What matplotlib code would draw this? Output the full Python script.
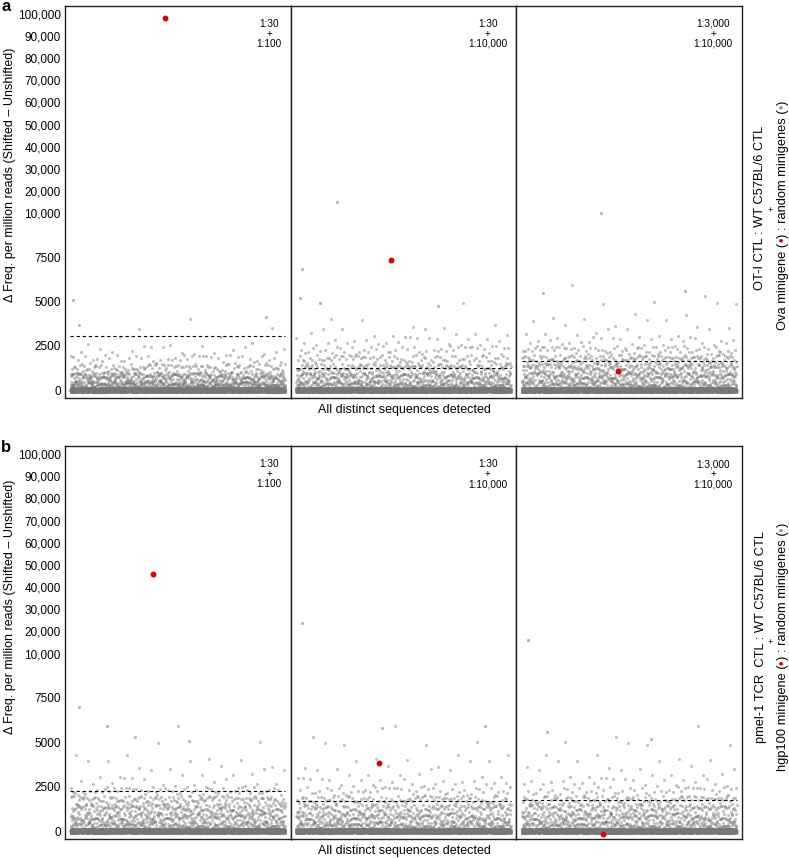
import numpy as np
import matplotlib
matplotlib.use("Agg")
import matplotlib.pyplot as plt

plt.rcParams['font.family'] = ['Liberation Sans', 'DejaVu Sans']

W, H = 789, 858

# y bands of the grey cloud (per million reads) and how many points sit in each band
band_edges = [(-120, 120), (120, 500), (500, 1000), (1000, 1500), (1500, 2000), (2000, 2500),
              (2500, 3000), (3000, 3500), (3500, 4000), (4000, 5000), (5000, 6000)]

counts_a = [
    [3000, 400, 340, 120, 45, 16, 5, 2, 1, 1, 0],
    [3000, 290, 280, 160, 85, 45, 22, 10, 4, 2, 0],
    [3000, 260, 280, 210, 140, 70, 26, 10, 7, 7, 3],
]
counts_b = [
    [3000, 250, 250, 200, 140, 60, 14, 10, 7, 5, 2],
    [3000, 240, 240, 160, 100, 48, 22, 10, 7, 7, 3],
    [3000, 240, 240, 170, 110, 48, 22, 10, 7, 7, 3],
]

# isolated grey points: position along the sequence list (fraction) and value
outlier_pos_a = [[0.01, 0.04, 0.91], [0.19, 0.03, 0.02, 0.11, 0.66], [0.37, 0.10, 0.76]]
outlier_val_a = [[5100, 3650, 4100], [14800, 6840, 5210, 4930, 4760], [10000, 5500, 5600]]
outlier_pos_b = [[0.04, 0.17, 0.30, 0.55], [0.03, 0.40, 0.88], [0.03, 0.12, 0.60]]
outlier_val_b = [[7000, 5900, 5300, 5100], [24000, 5800, 5900], [16000, 5600, 5200]]

# the spiked-in minigene (red)
minigene_pos_a = [0.44, 0.44, 0.45]
minigene_val_a = [98000, 7340, 1050]
minigene_pos_b = [0.385, 0.385, 0.38]
minigene_val_b = [46000, 3820, -150]

thresholds_a = [3040, 1260, 1620]
thresholds_b = [2250, 1700, 1720]

ratios = ['1:30\n+\n1:100', '1:30\n+\n1:10,000', '1:3,000\n+\n1:10,000']

yticks = [0, 2500, 5000, 7500, 10000, 20000, 30000, 40000, 50000,
          60000, 70000, 80000, 90000, 100000]
ytick_labels = ['0', '2500', '5000', '7500', '10,000', '20,000', '30,000', '40,000',
                '50,000', '60,000', '70,000', '80,000', '90,000', '100,000']

N = 4000


def fwd(y):
    y = np.asarray(y, float)
    return np.where(y <= 1e4, y, 1e4 + (y - 1e4) / 8)


def inv(t):
    t = np.asarray(t, float)
    return np.where(t <= 1e4, t, 1e4 + (t - 1e4) * 8)


def px(x, y):
    return x / W, 1 - y / H


def spread_cloud(counts):
    # lay the band counts out along the sequence list (deterministic, evenly mixed)
    ys = []
    for (lo, hi), c in zip(band_edges, counts):
        k = np.arange(c)
        ys.append(lo + (hi - lo) * ((k * k * 0.7071067812 + k * 0.2360679775) % 1))
    ys = np.concatenate(ys)
    xs = ((np.arange(len(ys)) * 0.6180339887 + 0.3) % 1) * N
    return xs, ys


def draw_row(axes, counts, out_pos, out_val, red_pos, red_val, thresholds):
    for i, ax in enumerate(axes):
        ax.set_yscale('function', functions=(fwd, inv))
        xs, ys = spread_cloud(counts[i])
        ax.scatter(xs, ys, s=5, color='#777777', alpha=0.45, linewidths=0)
        ax.scatter(np.array(out_pos[i]) * N, out_val[i], s=5, color='#777777', alpha=0.55, linewidths=0)
        ax.hlines(thresholds[i], 0, N, colors='black', linestyles=(0, (3, 2.5)), lw=0.8)
        ax.scatter([red_pos[i] * N], [red_val[i]], s=18, color='#e00000', linewidths=0, zorder=5)
        ax.set_xlim(-0.025 * N, 1.025 * N)
        ax.set_ylim(-450, 103600)
        ax.set_xticks([])
        ax.set_yticks(yticks)
        ax.set_yticklabels(ytick_labels if i == 0 else [])
        ax.tick_params(axis='y', length=0, pad=3, labelsize=8.5)
        for sp in ax.spines.values():
            sp.set_color('#222222')
            sp.set_linewidth(1.0)
        ax.text(1 - 9 / 226, 1 - 13 / 392, ratios[i], transform=ax.transAxes, ha='right', va='top',
                multialignment='center', fontsize=7.2, linespacing=1.0)


def side_label(fig, x, yc, pieces, size):
    r = fig.canvas.get_renderer()
    texts = [fig.text(0, 0, s, color=c, fontsize=size, rotation=90, rotation_mode='anchor',
                      ha='left', va='center') for s, c in pieces]
    lens = [t.get_window_extent(r).height for t in texts]
    y = yc + sum(lens) / 2
    for t, L in zip(texts, lens):
        t.set_position(px(x, y))
        y -= L


fig = plt.figure(figsize=(W / 100, H / 100), dpi=100)

left, right = 65, 742
pw = (right - left) / 3
rows = [(6, 398), (446, 839)]
axes_rows = []
for top, bot in rows:
    row = []
    for i in range(3):
        row.append(fig.add_axes([(left + i * pw) / W, 1 - bot / H, pw / W, (bot - top) / H]))
    axes_rows.append(row)

draw_row(axes_rows[0], counts_a, outlier_pos_a, outlier_val_a, minigene_pos_a, minigene_val_a, thresholds_a)
draw_row(axes_rows[1], counts_b, outlier_pos_b, outlier_val_b, minigene_pos_b, minigene_val_b, thresholds_b)

ylab = 'Δ Freq. per million reads (Shifted – Unshifted)'
fig.text(*px(10, 175), ylab, rotation=90, ha='center', va='center', fontsize=9)
fig.text(*px(10, 607), ylab, rotation=90, ha='center', va='center', fontsize=9)

fig.text(*px(404, 410), 'All distinct sequences detected', ha='center', va='center', fontsize=9)
fig.text(*px(404, 851), 'All distinct sequences detected', ha='center', va='center', fontsize=9)

fig.text(*px(1, 11), 'a', fontsize=12, fontweight='bold', ha='left', va='baseline')
fig.text(*px(1, 452), 'b', fontsize=12, fontweight='bold', ha='left', va='baseline')

side_label(fig, 760, 208, [('OT-I CTL : WT C57BL/6 CTL', 'black')], 9.3)
fig.text(*px(772, 208), '+', rotation=90, ha='center', va='center', fontsize=6.5)
side_label(fig, 783, 215, [('Ova minigene (', 'black'), ('•', '#e00000'),
                           (') : random minigenes (', 'black'), ('•', '#9a9a9a'), (')', 'black')], 9.3)

side_label(fig, 761, 637, [('pmel-1 TCR  CTL : WT C57BL/6 CTL', 'black')], 9.3)
fig.text(*px(772, 640), '+', rotation=90, ha='center', va='center', fontsize=6.5)
side_label(fig, 783, 647, [('hgp100 minigene (', 'black'), ('•', '#e00000'),
                           (') : random minigenes (', 'black'), ('•', '#9a9a9a'), (')', 'black')], 9.3)

fig.savefig('out.png', dpi=100)
